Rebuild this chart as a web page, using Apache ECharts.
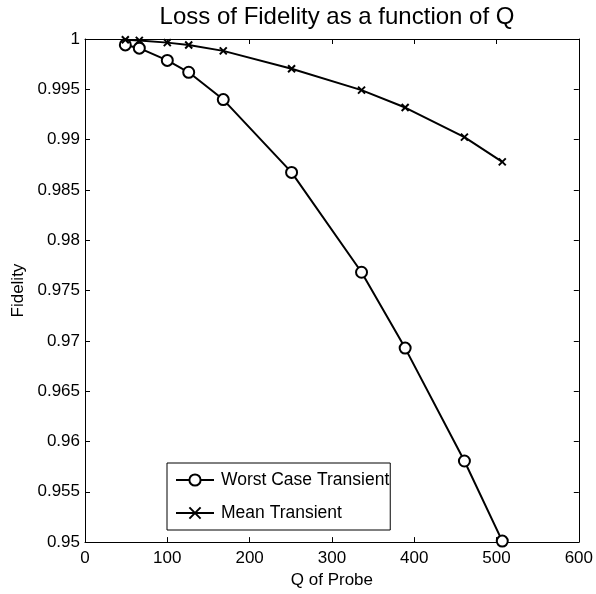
<!DOCTYPE html>
<html>
<head>
<meta charset="utf-8">
<script src="https://cdn.jsdelivr.net/npm/echarts@6/dist/echarts.min.js"></script>
<style>
  html, body { margin: 0; padding: 0; background: #fff; }
  #chart { width: 596px; height: 594px; }
</style>
</head>
<body>
<div id="chart"></div>
<script>
// Q of the probe at each simulated point
const qValues = [49, 66, 100, 126, 168, 251, 336, 389, 461, 507];
// Fidelity for the worst-case transient
const worstCase = [0.99941, 0.99909, 0.99787, 0.99669, 0.99398, 0.98674, 0.97682, 0.96928, 0.95806, 0.9501];
// Fidelity averaged over transients
const meanCase = [0.99992, 0.99986, 0.99964, 0.99941, 0.99882, 0.99705, 0.99492, 0.99319, 0.99025, 0.98779];

const seriesNames = ['Worst Case Transient', 'Mean Transient'];
const titleText = 'Loss of Fidelity as a function of Q';
const xName = 'Q of Probe';
const yName = 'Fidelity';

const FONT = 'Liberation Sans, Arial, Helvetica, sans-serif';
const pairs = (xs, ys) => xs.map((x, i) => [x, ys[i]]);
const crossPath = 'path://M0,0L10,10M10,0L0,10';

const tickStyle = { show: true, inside: true, length: 5, lineStyle: { color: '#000', width: 1 } };
const lineAxis = { show: true, onZero: false, lineStyle: { color: '#000', width: 1 } };

const chart = echarts.init(document.getElementById('chart'), null, { renderer: 'canvas' });
chart.setOption({
  backgroundColor: '#fff',
  animation: false,
  textStyle: { fontFamily: FONT },
  title: {
    text: titleText,
    left: 332,
    textAlign: 'center',
    top: 0,
    textStyle: { fontFamily: FONT, fontSize: 24, fontWeight: 'normal', color: '#000' }
  },
  grid: { left: 85, right: 16, top: 39, bottom: 46, containLabel: false },
  legend: {
    orient: 'vertical',
    left: 167,
    top: 463,
    data: seriesNames,
    itemWidth: 38,
    itemHeight: 14,
    itemGap: 15,
    padding: [8, 1, 8, 8],
    backgroundColor: '#fff',
    borderColor: '#000',
    borderWidth: 1,
    borderRadius: 0,
    textStyle: { fontFamily: FONT, fontSize: 17.5, lineHeight: 14, color: '#000', padding: [0, 0, 0, 2] },
    inactiveColor: '#000'
  },
  xAxis: [
    {
      type: 'value', min: 0, max: 600, interval: 100, position: 'bottom',
      name: xName, nameLocation: 'middle', nameGap: 26,
      nameTextStyle: { fontFamily: FONT, fontSize: 17, color: '#000' },
      axisLine: lineAxis, axisTick: tickStyle,
      axisLabel: { color: '#000', fontFamily: FONT, fontSize: 17, margin: 8 },
      splitLine: { show: false }
    },
    {
      type: 'value', min: 0, max: 600, interval: 100, position: 'top',
      axisLine: lineAxis, axisTick: tickStyle, axisLabel: { show: false }, splitLine: { show: false }
    }
  ],
  yAxis: [
    {
      type: 'value', min: 0.95, max: 1, interval: 0.005, position: 'left',
      name: yName, nameLocation: 'middle', nameGap: 56,
      nameTextStyle: { fontFamily: FONT, fontSize: 17, color: '#000' },
      axisLine: lineAxis, axisTick: tickStyle,
      axisLabel: {
        color: '#000', fontFamily: FONT, fontSize: 17, margin: 5,
        formatter: v => String(parseFloat(v.toFixed(3)))
      },
      splitLine: { show: false }
    },
    {
      type: 'value', min: 0.95, max: 1, interval: 0.005, position: 'right',
      axisLine: lineAxis, axisTick: tickStyle, axisLabel: { show: false }, splitLine: { show: false }
    }
  ],
  series: [
    {
      name: seriesNames[0],
      type: 'line',
      data: pairs(qValues, worstCase),
      symbol: 'circle',
      symbolSize: 11,
      showAllSymbol: true,
      lineStyle: { color: '#000', width: 2 },
      itemStyle: { color: '#fff', borderColor: '#000', borderWidth: 2 },
      z: 3
    },
    {
      name: seriesNames[1],
      type: 'line',
      data: pairs(qValues, meanCase),
      symbol: crossPath,
      symbolSize: 7,
      showAllSymbol: true,
      lineStyle: { color: '#000', width: 2 },
      itemStyle: { color: '#000', borderColor: '#000', borderWidth: 2 },
      z: 4
    }
  ]
});
</script>
</body>
</html>
